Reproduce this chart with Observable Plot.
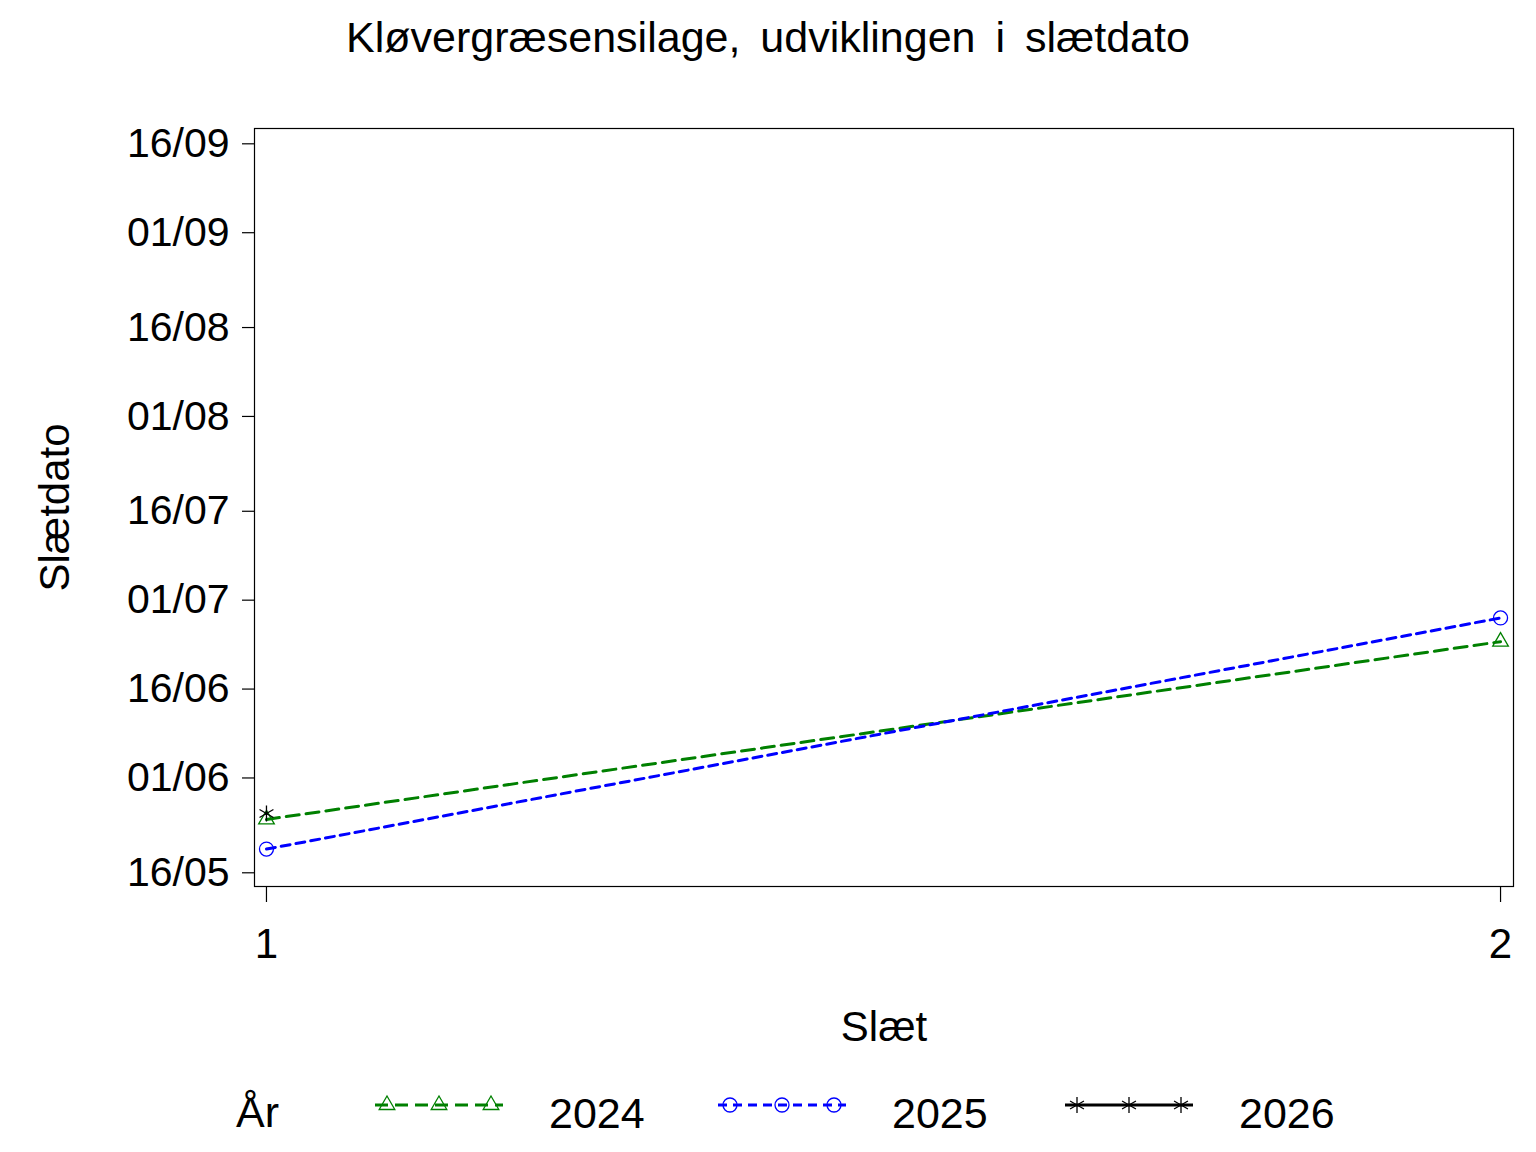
<!DOCTYPE html>
<html>
<head>
<meta charset="utf-8">
<script src="https://cdn.jsdelivr.net/npm/d3@7"></script>
<script src="https://cdn.jsdelivr.net/npm/@observablehq/plot@0.6"></script>
<style>
  html, body { margin: 0; padding: 0; background: #fff; }
  #wrap { position: relative; width: 1536px; height: 1152px; overflow: hidden; font-family: "Liberation Sans", Arial, sans-serif; }
  #title { position: absolute; top: 16px; left: 0; width: 1536px; text-align: center; font-size: 43px; line-height: 43px; word-spacing: 8px; color: #000; }
  #chart { position: absolute; top: 100px; left: 0; }
  #legend { position: absolute; top: 1060px; left: 0; }
</style>
</head>
<body>
<div id="wrap">
  <div id="title">Kløvergræsensilage, udviklingen i slætdato</div>
  <div id="chart"></div>
  <div id="legend"></div>
</div>
<script>
// ---- data ----
const slaet = [1, 2];
const years = [2024, 2025, 2026];
const dates2024 = ["25/05", "24/06"];
const dates2025 = ["20/05", "28/06"];
const dates2026 = ["26/05"];
const yTickLabels = ["16/05", "01/06", "16/06", "01/07", "16/07", "01/08", "16/08", "01/09", "16/09"];
const xTickLabels = [1, 2];
const legendTitle = "År";

// ---- helpers ----
const REF_YEAR = 2000;
const parseDM = s => { const [d, m] = s.split("/").map(Number); return new Date(Date.UTC(REF_YEAR, m - 1, d)); };

const seriesDates = [dates2024, dates2025, dates2026];
const styles = [
  {color: "#008000", dash: "13,7", symbol: "triangle", r: 5.8},
  {color: "#0000ff", dash: "9,6", symbol: "circle", r: 7},
  {color: "#000000", dash: null, symbol: "asterisk", r: 7.6}
];

const series = years.map((yr, i) => ({
  year: yr,
  rows: seriesDates[i].map((s, j) => ({slaet: slaet[j], date: parseDM(s), year: yr})),
  ...styles[i]
}));

const yTicks = yTickLabels.map(parseDM);
const FONT = "'Liberation Sans', Arial, sans-serif";

const marks = [Plot.frame({stroke: "black", strokeWidth: 1.2})];
for (const s of series) {
  marks.push(Plot.line(s.rows, {
    x: "slaet", y: "date", stroke: s.color, strokeWidth: 3,
    strokeDasharray: s.dash || undefined
  }));
}
for (const s of series) {
  marks.push(Plot.dot(s.rows, {
    x: "slaet", y: "date", symbol: () => s.symbol, r: s.r,
    stroke: s.color, strokeWidth: 1.3, fill: "none"
  }));
}
marks.push(Plot.axisY({
  ticks: yTicks, tickFormat: d3.utcFormat("%d/%m"), tickSize: 12, tickPadding: 13,
  fontSize: 41, strokeWidth: 1.2, label: null
}));
marks.push(Plot.axisX({
  ticks: xTickLabels, tickFormat: d => String(d), tickSize: 16, tickPadding: 26,
  fontSize: 42, strokeWidth: 1.2, label: null
}));
marks.push(Plot.text(["Slæt"], {text: d => d, frameAnchor: "bottom", lineAnchor: "middle", textAnchor: "middle", dy: 141, fontSize: 42, fill: "black"}));
marks.push(Plot.text(["Slætdato"], {text: d => d, frameAnchor: "left", lineAnchor: "middle", textAnchor: "middle", dx: -199, rotate: -90, fontSize: 42, letterSpacing: 1, fill: "black"}));

const chart = Plot.plot({
  width: 1536,
  height: 960,
  marginTop: 28,
  marginBottom: 174,
  marginLeft: 254,
  marginRight: 23,
  style: {fontFamily: FONT, fontSize: "40px", background: "white", color: "black", overflow: "visible"},
  x: {type: "linear", domain: [0.9903, 2.0105]},
  y: {type: "utc", domain: [new Date("2000-05-13T16:30:00Z"), new Date("2000-09-18T14:00:00Z")]},
  symbol: {type: "identity"},
  marks
});
document.getElementById("chart").appendChild(chart);

// ---- legend ----
const legendX = [375, 718, 1065];
const lsvg = d3.select("#legend").append("svg")
  .attr("width", 1536).attr("height", 92)
  .style("font-family", FONT);
lsvg.append("text").attr("x", 236).attr("y", 67).attr("font-size", 43).text(legendTitle);
const symMap = {triangle: d3.symbolTriangle, circle: d3.symbolCircle, asterisk: d3.symbolAsterisk};
series.forEach((s, i) => {
  const x0 = legendX[i], w = 128, ly = 45;
  lsvg.append("line").attr("x1", x0).attr("x2", x0 + w).attr("y1", ly).attr("y2", ly)
    .attr("stroke", s.color).attr("stroke-width", 3)
    .attr("stroke-dasharray", s.dash || null);
  [12, 64, 116].forEach(dx => {
    lsvg.append("path")
      .attr("d", d3.symbol(symMap[s.symbol], s.r * s.r * Math.PI)())
      .attr("transform", `translate(${x0 + dx},${ly})`)
      .attr("fill", "none").attr("stroke", s.color).attr("stroke-width", 1.3);
  });
  lsvg.append("text").attr("x", x0 + w + 46).attr("y", 68).attr("font-size", 43).text(String(s.year));
});
</script>
</body>
</html>
